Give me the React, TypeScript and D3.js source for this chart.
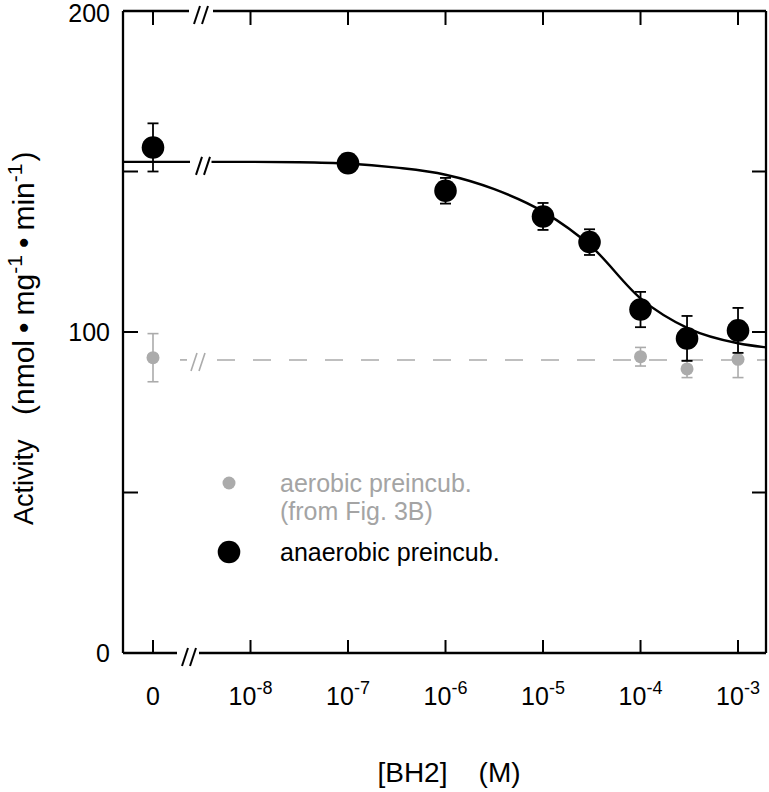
import React from 'react';
import * as d3 from 'd3';

// ---- data ----
const concentrations = [0, 1e-7, 1e-6, 1e-5, 3e-5, 1e-4, 3e-4, 1e-3];
const anaerobicMean = [157.5, 152.6, 144, 136, 128, 107, 98, 100.5];
const anaerobicErr = [7.5, 1.5, 4, 4.2, 4, 5.5, 7, 7];

const aerobicConc = [0, 1e-4, 3e-4, 1e-3];
const aerobicMean = [92, 92.3, 88.5, 91.5];
const aerobicErr = [7.5, 2.9, 2.7, 5.7];
const aerobicBaseline = 91.3;

const fitLogConc = [-8.4, -8, -7.5, -7, -6.5, -6, -5.5, -5, -4.5, -4, -3.5, -3, -2.71];
const fitActivity = [153, 153, 152.9, 152.5, 151.2, 149, 144.5, 137.5, 126.5, 110.5, 101, 96.5, 95.2];

const xTickExponents = [-8, -7, -6, -5, -4, -3];
const yTicks = [0, 50, 100, 150, 200];
const yTickLabels = [0, 100, 200];

const legendLabels = ['aerobic preincub.', '(from Fig. 3B)', 'anaerobic preincub.'];

const W = 769;
const H = 792;
const FONT = 'Liberation Sans, Arial, Helvetica, sans-serif';
const GRAY = '#ababab';
const GRAY_TEXT = '#a4a4a4';

const PL = 123, PR = 766, PT = 11, PB = 653;

export default function App() {
  const x = d3.scaleLog().domain([1e-9, Math.pow(10, -2.713)]).range([153, PR]);
  const xPos = (c: number) => (c === 0 ? x(1e-9) : x(c));
  const y = d3.scaleLinear().domain([0, 200]).range([PB, PT]);

  const fitPts: [number, number][] = fitLogConc.map((l, i) => [x(Math.pow(10, l)), y(fitActivity[i])]);
  const fitPath = d3.line().curve(d3.curveMonotoneX)(fitPts) || '';

  const slashes = (cx: number, cy: number, color: string, sw: number) => (
    <g stroke={color} strokeWidth={sw}>
      <line x1={cx - 7} y1={cy + 10} x2={cx - 1} y2={cy - 8} />
      <line x1={cx + 1} y1={cy + 10} x2={cx + 7} y2={cy - 8} />
    </g>
  );

  const fitY0 = y(fitActivity[0]);
  const grayY = y(aerobicBaseline);
  const allTicks = [0, ...xTickExponents.map((e) => Math.pow(10, e))];

  return (
    <svg
      width={W}
      height={H}
      style={{ position: 'absolute', left: 0, top: 0, background: '#fff' }}
      fontFamily={FONT}
    >
      <rect x={0} y={0} width={W} height={H} fill="#fff" />

      {/* gray dashed baseline with break */}
      <line x1={180} y1={grayY} x2={187} y2={grayY} stroke={GRAY} strokeWidth={1.6} />
      {slashes(198, grayY + 1, GRAY, 1.6)}
      <line x1={217} y1={grayY} x2={PR} y2={grayY} stroke={GRAY} strokeWidth={1.6} strokeDasharray="18,18" />

      {/* aerobic points */}
      {aerobicConc.map((c, i) => {
        const cx = xPos(c);
        const yt = y(aerobicMean[i] + aerobicErr[i]);
        const yb = y(aerobicMean[i] - aerobicErr[i]);
        return (
          <g key={'a' + i} stroke={GRAY} strokeWidth={1.6}>
            <line x1={cx} x2={cx} y1={yt} y2={yb} />
            <line x1={cx - 5.5} x2={cx + 5.5} y1={yt} y2={yt} />
            <line x1={cx - 5.5} x2={cx + 5.5} y1={yb} y2={yb} />
            <circle cx={cx} cy={y(aerobicMean[i])} r={6.5} fill={GRAY} stroke="none" />
          </g>
        );
      })}

      {/* fitted curve with break */}
      <line x1={PL} y1={fitY0} x2={190} y2={fitY0} stroke="#000" strokeWidth={2.2} />
      {slashes(203, fitY0 + 3, '#000', 2)}
      <path d={fitPath} fill="none" stroke="#000" strokeWidth={2.4} />

      {/* anaerobic points */}
      {concentrations.map((c, i) => {
        const cx = xPos(c);
        const yt = y(anaerobicMean[i] + anaerobicErr[i]);
        const yb = y(anaerobicMean[i] - anaerobicErr[i]);
        return (
          <g key={'b' + i} stroke="#000" strokeWidth={1.8}>
            <line x1={cx} x2={cx} y1={yt} y2={yb} />
            <line x1={cx - 5.5} x2={cx + 5.5} y1={yt} y2={yt} />
            <line x1={cx - 5.5} x2={cx + 5.5} y1={yb} y2={yb} />
            <circle cx={cx} cy={y(anaerobicMean[i])} r={11.3} fill="#000" stroke="none" />
          </g>
        );
      })}

      {/* frame */}
      <g stroke="#000" strokeWidth={2.3} fill="none">
        <line x1={PL} y1={PT} x2={PL} y2={PB} />
        <line x1={PR} y1={PT} x2={PR} y2={PB} />
        <line x1={PL} y1={PT} x2={189} y2={PT} />
        <line x1={213} y1={PT} x2={PR} y2={PT} />
        <line x1={PL} y1={PB} x2={177} y2={PB} />
        <line x1={199} y1={PB} x2={PR} y2={PB} />
      </g>
      {slashes(201, PT + 3, '#000', 2)}
      {slashes(189, PB + 3, '#000', 2)}

      {/* ticks */}
      <g stroke="#000" strokeWidth={2}>
        {allTicks.map((t, i) => (
          <g key={'xt' + i}>
            <line x1={xPos(t)} x2={xPos(t)} y1={PB} y2={PB - 13} />
            <line x1={xPos(t)} x2={xPos(t)} y1={PT} y2={PT + 14} />
          </g>
        ))}
        {yTicks.filter((t) => t > 0 && t < 200).map((t) => (
          <g key={'yt' + t}>
            <line x1={PL} x2={PL + 15} y1={y(t)} y2={y(t)} />
            <line x1={PR} x2={PR - 14} y1={y(t)} y2={y(t)} />
          </g>
        ))}
      </g>

      {/* x tick labels */}
      <text x={xPos(0)} y={705} fontSize={25} textAnchor="middle">0</text>
      {xTickExponents.map((e) => (
        <text key={'xl' + e} x={x(Math.pow(10, e))} y={705} fontSize={25} textAnchor="middle">
          10<tspan dy={-11} fontSize={18}>{e}</tspan>
        </text>
      ))}

      {/* y tick labels */}
      {yTickLabels.map((t) => (
        <text key={'yl' + t} x={110} y={Math.max(y(t) + 9, 22)} fontSize={25} textAnchor="end">{t}</text>
      ))}

      {/* axis titles */}
      <text x={449} y={782} fontSize={28} textAnchor="middle" xmlSpace="preserve">[BH2]    (M)</text>
      <text transform="translate(33,525) rotate(-90)" fontSize={27}>Activity</text>
      <text transform="translate(34,415) rotate(-90)" fontSize={30}>
        (nmol<tspan dx={7}>•</tspan>
        <tspan dx={7}>mg</tspan>
        <tspan dy={-12} fontSize={21}>-1</tspan>
        <tspan dy={12} dx={7}>•</tspan>
        <tspan dx={7}>min</tspan>
        <tspan dy={-12} fontSize={21}>-1</tspan>
        <tspan dy={12} dx={2}>)</tspan>
      </text>

      {/* legend */}
      <circle cx={229} cy={483} r={6.5} fill={GRAY} />
      <text x={280} y={492} fontSize={25} fill={GRAY_TEXT}>{legendLabels[0]}</text>
      <text x={280} y={520} fontSize={25} fill={GRAY_TEXT}>{legendLabels[1]}</text>
      <circle cx={229} cy={552} r={11.3} fill="#000" />
      <text x={280} y={561} fontSize={25} fill="#000">{legendLabels[2]}</text>
    </svg>
  );
}
